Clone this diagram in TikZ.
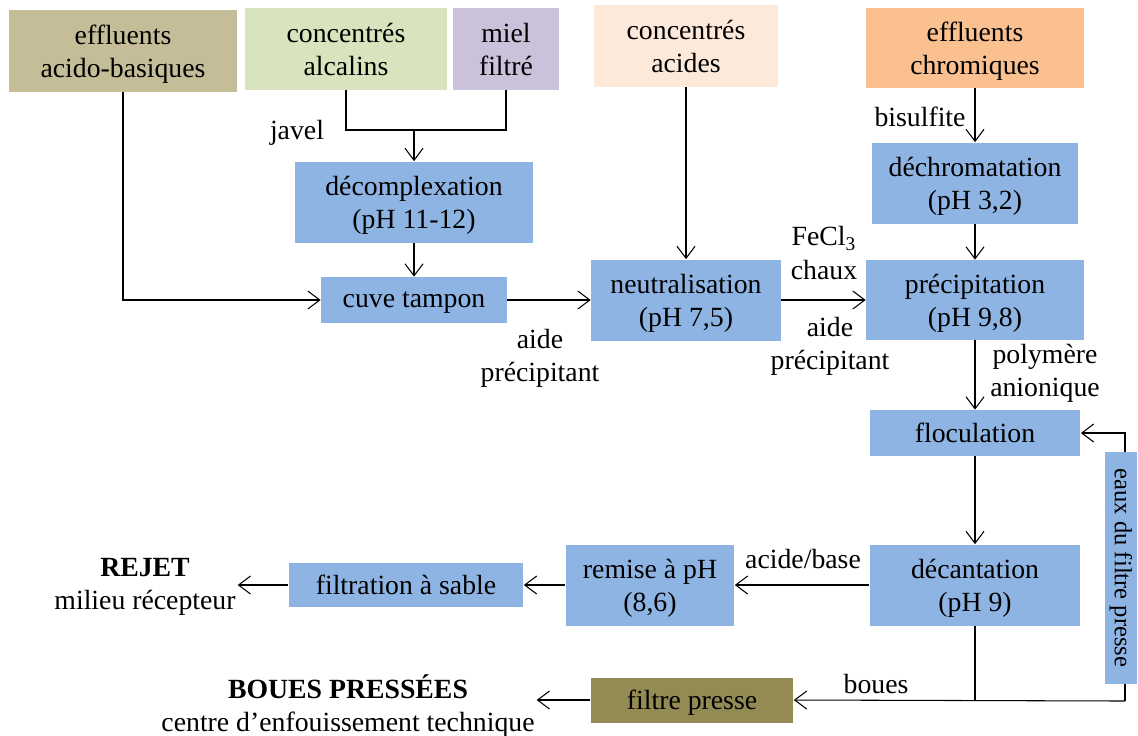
\documentclass[tikz,border=0pt]{standalone}
\usepackage{fontspec}
\setmainfont{Liberation Serif}
\usetikzlibrary{arrows.meta, positioning, backgrounds}

\definecolor{procblue}{HTML}{8EB4E3}
\definecolor{tanfill}{HTML}{C4BD97}
\definecolor{greenfill}{HTML}{D7E4BD}
\definecolor{mauvefill}{HTML}{CCC1DA}
\definecolor{peachfill}{HTML}{FDE9D9}
\definecolor{orangefill}{HTML}{FAC090}
\definecolor{olivefill}{HTML}{948A54}

\begin{document}
\begin{tikzpicture}[x=0.02cm, y=-0.02cm,
    every node/.style={font=\fontsize{15.8}{18.8}\selectfont, align=center},
    source/.style={inner sep=0pt, text depth=0pt, minimum height=1.64cm},
    box/.style={fill=procblue, inner sep=0pt, text depth=0pt, minimum height=1.62cm},
    thinbox/.style={fill=procblue, inner sep=0pt, text depth=0pt, minimum height=0.92cm},
    flow/.style={-{Straight Barb[length=2.4mm, width=3.6mm]}, line width=0.6pt},
    link/.style={line width=0.6pt}]
    \useasboundingbox (0,0) rectangle (1138,735);

    % sources
    \node[source, fill=tanfill, minimum width=4.58cm] (acido) at (123,51) {effluents\\acido-basiques};
    \node[source, fill=greenfill, minimum width=4.06cm] (alcalins) at (346,49) {concentrés\\alcalins};
    \node[source, fill=mauvefill, minimum width=2.14cm] (miel) at (506,49) {miel\\filtré};
    \node[source, fill=peachfill, minimum width=3.70cm] (acides) at (686,46) {concentrés\\acides};
    \node[source, fill=orangefill, minimum width=4.36cm, minimum height=1.60cm] (chrom) at (975,48) {effluents\\chromiques};

    % process steps
    \node[box, minimum width=4.76cm] (decomp) at (414,202) {décomplexation\\(pH 11-12)};
    \node[thinbox, minimum width=3.72cm] (cuve) at (414,300) {cuve tampon};
    \node[box, minimum width=3.80cm] (neutra) at (686,300) {neutralisation\\(pH 7,5)};
    \node[box, minimum width=4.12cm] (dechrom) at (975,183) {déchromatation\\(pH 3,2)};
    \node[box, minimum width=4.36cm, minimum height=1.60cm] (precip) at (975,300) {précipitation\\(pH 9,8)};
    \node[thinbox, minimum width=4.22cm] (floc) at (975,433) {floculation};
    \node[box, minimum width=4.22cm] (decant) at (975,585) {décantation\\(pH 9)};
    \node[box, minimum width=3.38cm] (remise) at (650,585) {remise à pH\\(8,6)};
    \node[thinbox, minimum width=4.70cm, minimum height=0.88cm] (sable) at (406,585) {filtration à sable};
    \node[fill=olivefill, inner sep=0pt, text depth=0pt, minimum width=4.06cm, minimum height=0.90cm] (presse) at (692,700) {filtre presse};
    \node[fill=procblue, inner sep=0pt, rotate=-90, minimum width=4.66cm, minimum height=0.64cm,
          font=\fontsize{14}{16}\selectfont] (eaux) at (1121,568) {eaux du filtre presse};

    % outlets
    \node[inner sep=1pt] (rejet) at (145,587) {\textbf{REJET}\\milieu récepteur};
    \node[inner sep=1pt] (pressees) at (348,706) {\textbf{BOUES PRESSÉES}\\centre d’enfouissement technique};

    % reagents
    \node (javel) at (297,133) {javel};
    \node (bisulf) at (920,117) {bisulfite};
    \node (aide1) at (540,358) {aide\\précipitant};
    \node (fecl) at (824,253) {FeCl\textsubscript{3}\\chaux};
    \node (aide2) at (830,346) {aide\\précipitant};
    \node (polym) at (1045,373) {polymère\\anionique};
    \node (acbase) at (803,559) {acide/base};
    \node (boues) at (876,684) {boues};

    \coordinate (join) at (414,130);
    \coordinate (retour) at (1125,701);

    % connectors
    \draw[link] (alcalins.south) |- (join) -| (miel.south);
    \draw[flow] (join) -- (decomp.north);
    \draw[flow] (decomp.south) -- (cuve.north);
    \draw[flow] (acido.south) |- (cuve.west);
    \draw[flow] (cuve.east) -- (neutra.west);
    \draw[flow] (acides.south) -- (neutra.north);
    \draw[flow] (neutra.east) -- (precip.west);
    \draw[flow] (chrom.south) -- (dechrom.north);
    \draw[flow] (dechrom.south) -- (precip.north);
    \draw[flow] (precip.south) -- (floc.north);
    \draw[flow] (floc.south) -- (decant.north);
    \draw[flow] (decant.west) -- (remise.east);
    \draw[flow] (remise.west) -- (sable.east);
    \draw[flow] (sable.west) -- (sable.west -| rejet.east);
    \draw[link] (decant.south) -- (decant.south |- retour);
    \draw[flow] (retour) -- (presse.east);
    \draw[flow] (presse.west) -- (presse.west -| pressees.east);
    \begin{scope}[on background layer]
      \draw[flow] (retour) |- (floc.east);
    \end{scope}
\end{tikzpicture}
\end{document}
